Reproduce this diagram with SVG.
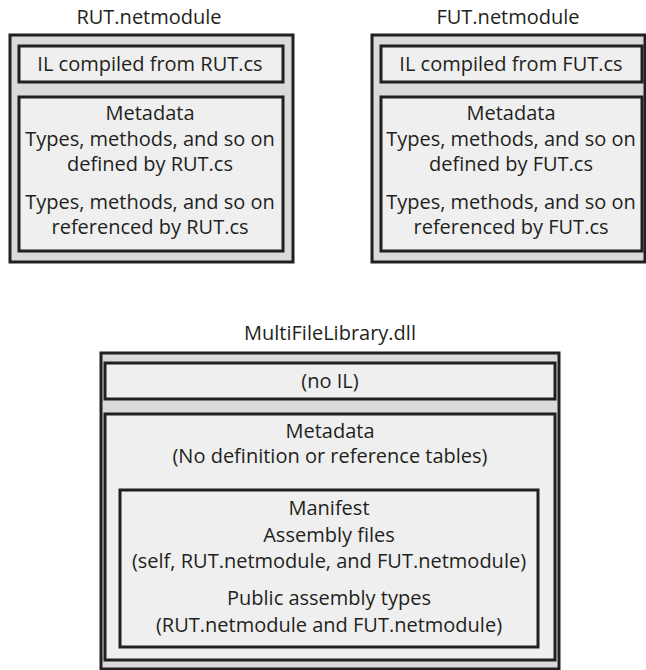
<svg xmlns="http://www.w3.org/2000/svg" width="646" height="670" viewBox="0 0 646 670">
<style>
.outer{fill:#d9dadb;stroke:#231f20;stroke-width:3}
.inner{fill:#efefef;stroke:#231f20;stroke-width:3}
text{font-family:"Open Sans","Noto Sans","Liberation Sans",sans-serif;font-size:20px;fill:#231f20;text-anchor:middle}
</style>
<rect width="646" height="670" fill="#ffffff"/>
<g id="rut">
<text x="149" y="24">RUT.netmodule</text>
<rect class="outer" x="10" y="35" width="283" height="227"/>
<rect class="inner" x="19" y="46" width="264" height="36"/>
<text x="150" y="71">IL compiled from RUT.cs</text>
<rect class="inner" x="19" y="97" width="264" height="154"/>
<text x="150" y="120">Metadata</text>
<text x="150" y="146">Types, methods, and so on</text>
<text x="150" y="171">defined by RUT.cs</text>
<text x="150" y="209">Types, methods, and so on</text>
<text x="150" y="234">referenced by RUT.cs</text>
</g>
<g id="fut">
<text x="508" y="24">FUT.netmodule</text>
<rect class="outer" x="372" y="35" width="273" height="227"/>
<rect class="inner" x="381" y="46" width="261" height="36"/>
<text x="511" y="71">IL compiled from FUT.cs</text>
<rect class="inner" x="381" y="97" width="261" height="154"/>
<text x="511" y="120">Metadata</text>
<text x="511" y="146">Types, methods, and so on</text>
<text x="511" y="171">defined by FUT.cs</text>
<text x="511" y="209">Types, methods, and so on</text>
<text x="511" y="234">referenced by FUT.cs</text>
</g>
<g id="dll">
<text x="330" y="340">MultiFileLibrary.dll</text>
<rect class="outer" x="101" y="353" width="458" height="316"/>
<rect class="inner" x="105" y="363" width="450" height="36"/>
<text x="330" y="388">(no IL)</text>
<rect class="inner" x="105" y="414" width="450" height="246"/>
<text x="330" y="438">Metadata</text>
<text x="330" y="463">(No definition or reference tables)</text>
<g id="manifest">
<rect class="inner" x="120" y="490" width="418" height="157"/>
<text x="329" y="515">Manifest</text>
<text x="329" y="542">Assembly files</text>
<text x="329" y="568">(self, RUT.netmodule, and FUT.netmodule)</text>
<text x="329" y="605">Public assembly types</text>
<text x="329" y="632">(RUT.netmodule and FUT.netmodule)</text>
</g>
</g>
<g id="connectors"/>
</svg>
